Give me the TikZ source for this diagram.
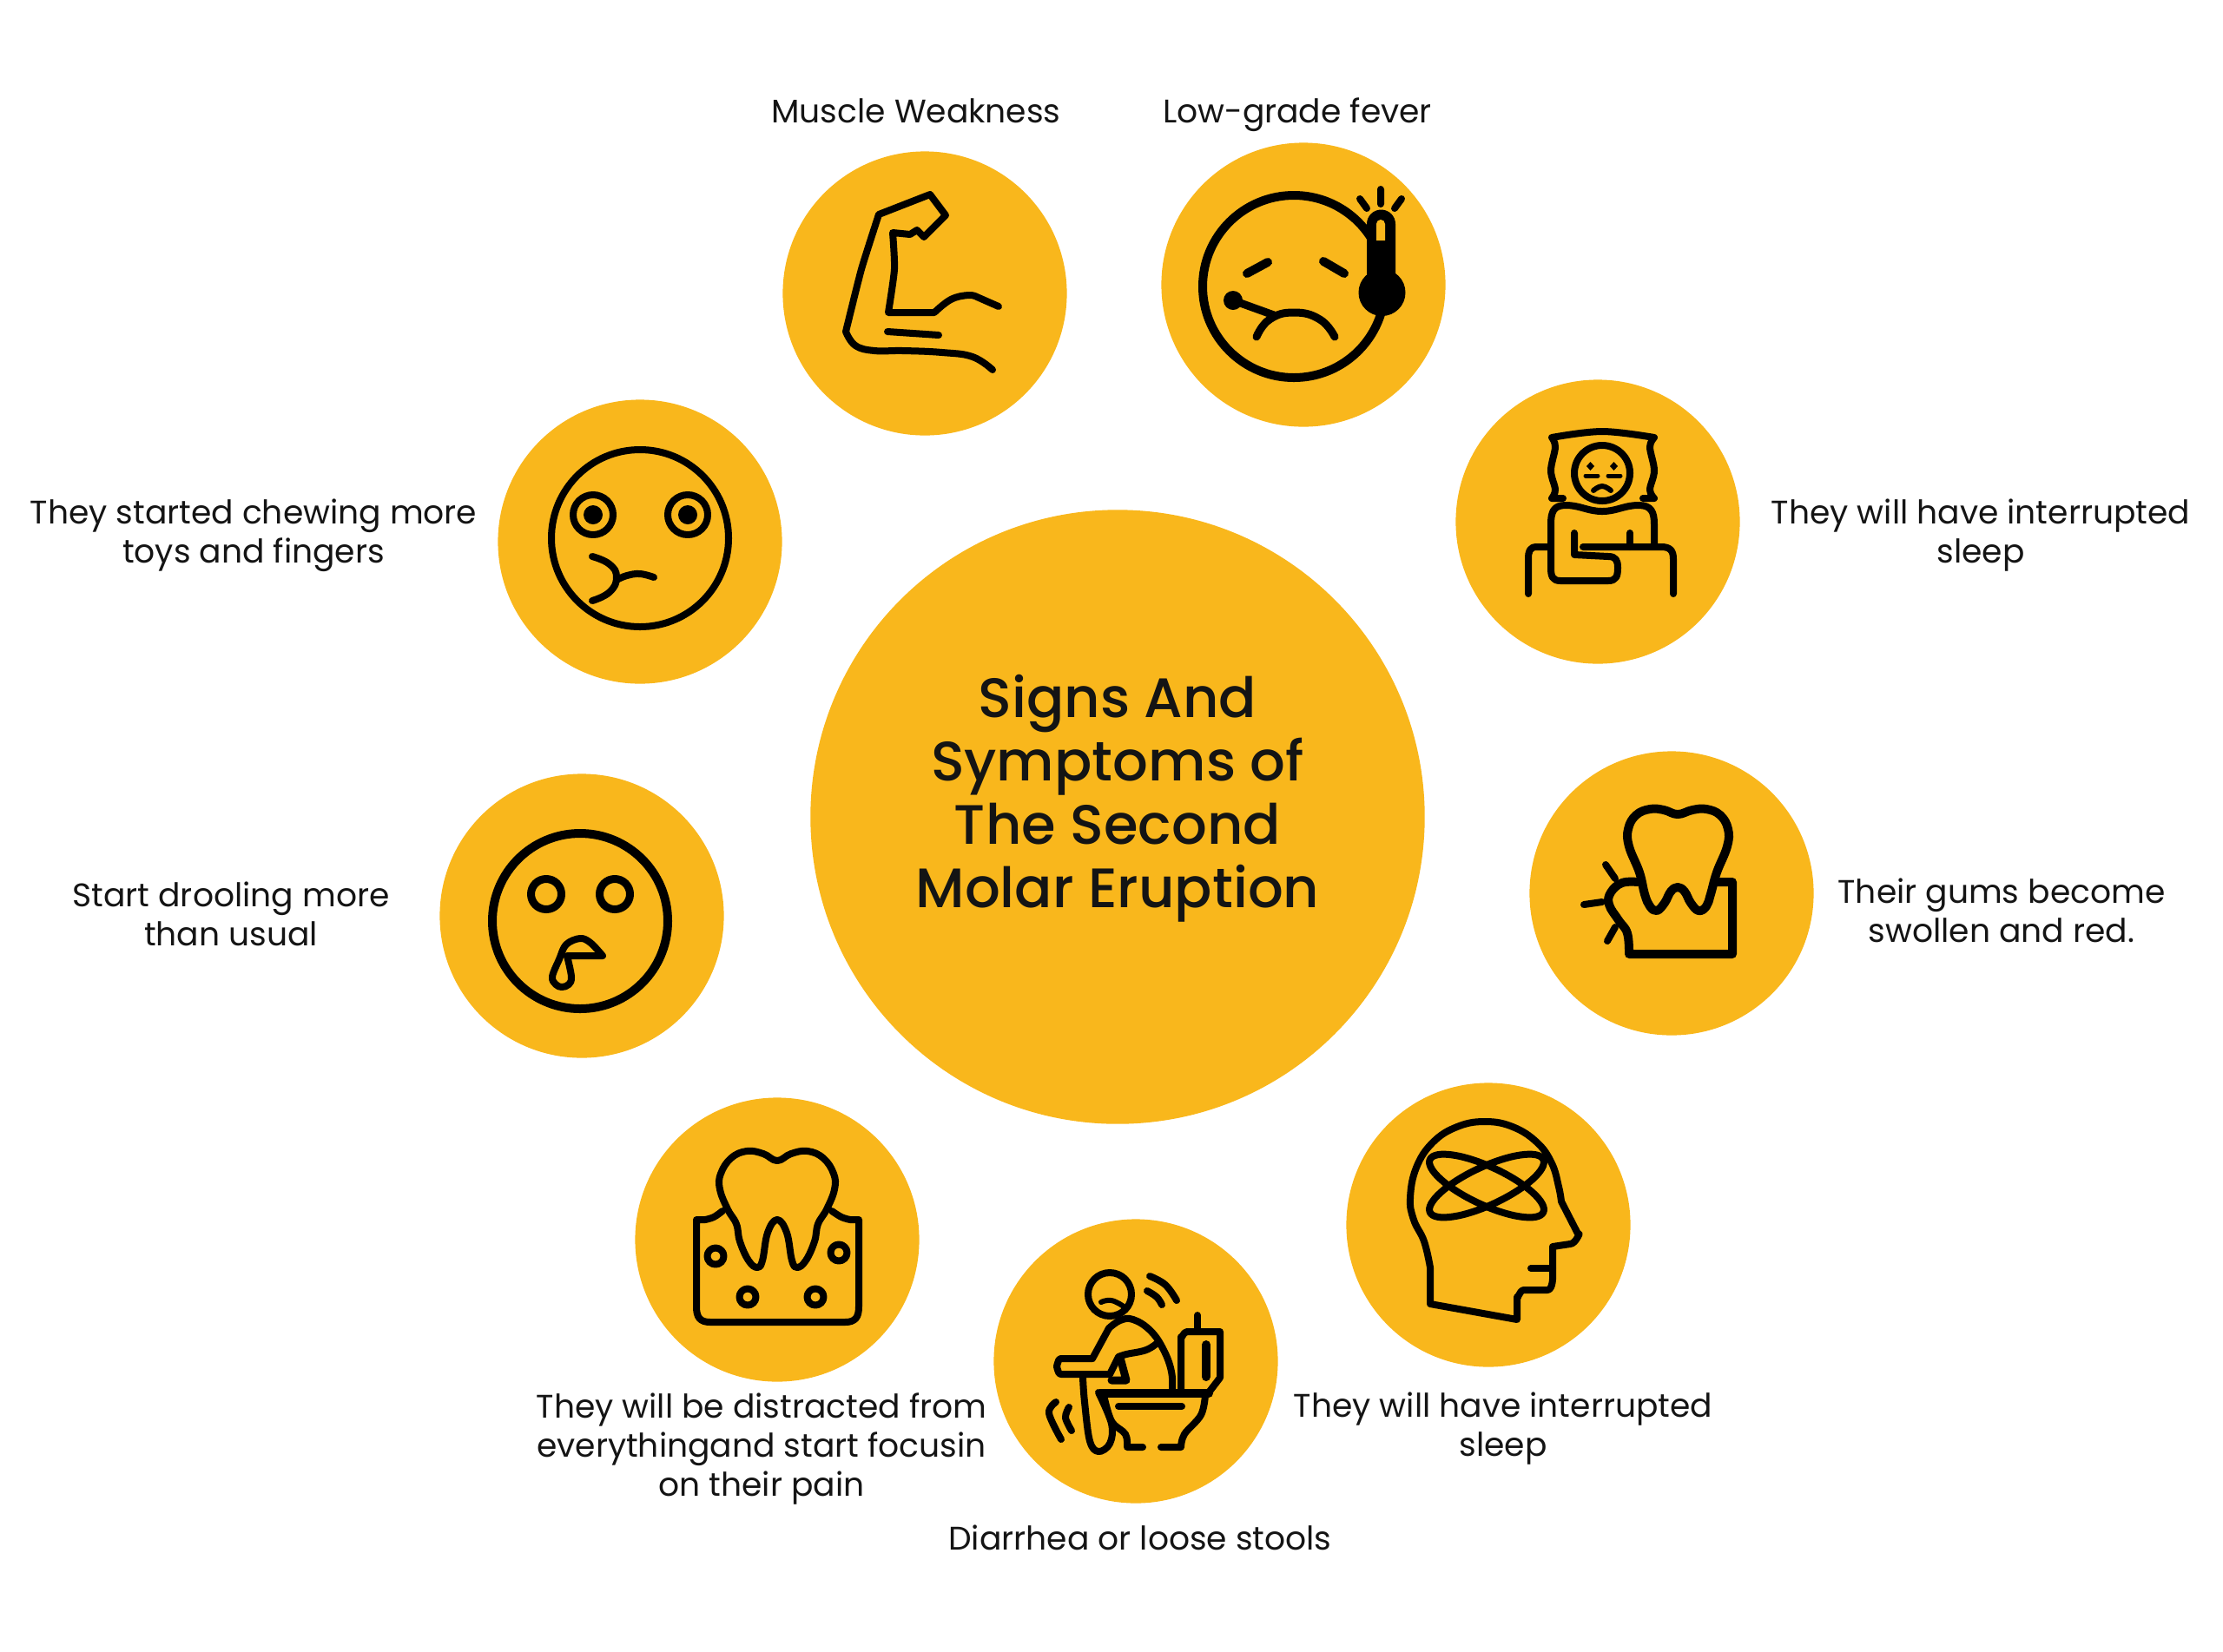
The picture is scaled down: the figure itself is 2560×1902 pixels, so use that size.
\documentclass[tikz,border=0pt]{standalone}
\usepackage{fontspec}
\setmainfont{Poppins}
\newfontfamily\titlefont{Poppins Medium}
\definecolor{amber}{HTML}{F9B71C}
\definecolor{ink}{HTML}{141414}
\tikzset{
  bubble/.style = {circle,fill=amber,inner sep=0pt,minimum size=3.27cm},
  hub/.style = {circle,fill=amber,inner sep=0pt,minimum size=7.07cm},
  caption/.style = {align=center,inner sep=0pt,text=ink,font=\fontsize{10.7}{12.8}\selectfont},
  headline/.style = {align=center,inner sep=0pt,text=ink,font=\titlefont\fontsize{18.2}{20.8}\selectfont},
  icon/.style = {draw=black,line width=0.08cm,line cap=round,line join=round},
  heavy/.style = {icon,line width=0.1cm}
}
\begin{document}
\begin{tikzpicture}[x=0.01cm,y=-0.01cm]
  \useasboundingbox (0,0) rectangle (2560,1902);
  % circles
  \node[hub] (centre) at (1287,941) {};
  \node[bubble] (muscle) at (1065,338) {};
  \node[bubble] (fever) at (1501,328) {};
  \node[bubble] (sleep) at (1840,601) {};
  \node[bubble] (gums) at (1925,1029) {};
  \node[bubble] (head) at (1714,1411) {};
  \node[bubble] (toilet) at (1308,1568) {};
  \node[bubble] (tooth) at (895,1428) {};
  \node[bubble] (drool) at (670,1055) {};
  \node[bubble] (chew) at (737,624) {};
  % texts
  \node[headline] (title) at (1287,920) {Signs And\\Symptoms of\\The Second\\Molar Eruption};
  \node[caption] (musclelabel) at (1055,128) {Muscle Weakness};
  \node[caption] (feverlabel) at (1494,132) {Low-grade fever};
  \node[caption] (sleeplabel) at (2281,617) {They will have interrupted\\sleep};
  \node[caption] (gumslabel) at (2305,1049) {Their gums become\\swollen and red.};
  \node[caption] (headlabel) at (1731,1646) {They will have interrupted\\sleep};
  \node[caption] (toiletlabel) at (1313,1771) {Diarrhea or loose stools};
  \node[caption] (toothlabel) at (877,1669) {They will be distracted from\\everythingand start focusin\\on their pain};
  \node[caption] (droollabel) at (266,1053) {Start drooling more\\than usual};
  \node[caption] (chewlabel) at (292,617) {They started chewing more\\toys and fingers};
  % muscle
  \draw[icon] plot[smooth,tension=0.7] coordinates {(1143,426) (1120,411) (1085,406) (1040,404) (1007,404) (985,398) (974,382)}
    -- plot[smooth,tension=0.3] coordinates {(974,382) (992,310) (1012,247)}
    -- (1071,224) -- (1089,248) -- (1064,273) -- (1056,265) -- (1048,270) -- (1028,268)
    -- plot[smooth,tension=0.4] coordinates {(1028,268) (1030,310) (1023,360)}
    -- (1076,360) -- plot[smooth,tension=0.7] coordinates {(1076,360) (1095,345) (1115,340) (1125,342)} -- (1150,353);
  \draw[icon] (1022,382) -- (1081,386);
  % fever
  \draw[heavy] (1490,330) circle (105);
  \fill (1574,336) -- (1574,258) arc (180:360:16.5) -- (1607,336) -- cycle;
  \fill (1591.5,337) circle (27);
  \fill[amber] (1585,277) -- (1585,258) arc (180:360:5) -- (1595,277) -- cycle;
  \draw[heavy,line width=0.08cm] (1590,218) -- (1590,235) (1566,229) -- (1574,240) (1614,229) -- (1606,240);
  \draw[heavy] (1436,315) -- (1460,302) (1524,301) -- (1548,315);
  \draw[heavy,line width=0.09cm] plot[smooth,tension=0.8] coordinates {(1447,388) (1462,368) (1490,360) (1520,368) (1537,388)};
  \draw[heavy,line width=0.09cm] (1420,346) -- (1467,363);
  \fill (1420,346) circle (11);
  % sleep
  \draw[icon] plot[smooth,tension=0.6] coordinates {(1787,504) (1845,497) (1905,504)}
    -- plot[smooth,tension=0.6] coordinates {(1905,504) (1900,515) (1905,542) (1900,564) (1905,574)} -- (1892,574)
    (1800,574) -- (1787,574) -- plot[smooth,tension=0.6] coordinates {(1787,574) (1791,564) (1786,542) (1791,515) (1787,504)};
  \draw[icon] (1845,545) circle (32);
  \fill (1831.5,532) -- (1836,537) -- (1831.5,542) -- (1827,537) -- cycle;
  \fill (1858.5,532) -- (1863,537) -- (1858.5,542) -- (1854,537) -- cycle;
  \draw[icon,line width=0.05cm] (1826,548) -- (1840,548) (1852,548) -- (1866,548);
  \draw[icon,line width=0.06cm] plot[smooth,tension=0.8] coordinates {(1835,565) (1845,560) (1855,565)};
  \draw[icon] (1813,614) -- (1813,639) -- (1852,641) to[out=0,in=90,looseness=1.3] (1863,654) to[out=-90,in=0,looseness=1.3] (1852,669)
    -- (1797,669) to[out=180,in=-90,looseness=1.3] (1786,654) -- (1786,604) to[out=90,in=180,looseness=1.3] (1803,582)
    to[out=0,in=180] (1845,589) to[out=0,in=180] (1887,582) to[out=0,in=90,looseness=1.3] (1905,604) -- (1905,626);
  \draw[icon] (1823,630) -- (1913,630) to[out=0,in=90,looseness=1.3] (1927,644) -- (1927,684);
  \draw[icon] (1760,684) -- (1760,644) to[out=90,in=180,looseness=1.3] (1770,630) -- (1785,630);
  \draw[icon] (1877,614) -- (1877,630);
  % gums
  \draw[heavy] plot[smooth cycle,tension=0.7] coordinates {(1932,938) (1916,933) (1900,932) (1884,939) (1875,955) (1876,975) (1888,1005)
    (1894,1030) (1900,1044) (1908,1049) (1917,1040) (1924,1027) (1932,1022) (1940,1027) (1947,1040) (1956,1049)
    (1965,1044) (1970,1030) (1977,1005) (1989,975) (1990,955) (1981,939) (1965,932) (1949,933)};
  \draw[heavy] plot[smooth,tension=0.7] coordinates {(1886,1016) (1868,1017) (1855,1028) (1853,1042) (1864,1060) (1874,1075) (1876,1099)}
    -- (1995,1099) -- (1995,1016) -- (1977,1016);
  \draw[heavy,line width=0.08cm] (1849,996) -- (1860,1012) (1824,1042) -- (1845,1039) (1851,1084) -- (1860,1068);
  % head
  \draw[icon] (1747,1520) -- (1647,1502) -- (1647,1460)
    -- plot[smooth,tension=0.7] coordinates {(1647,1460) (1640,1430) (1628,1405) (1624,1380) (1631,1345) (1650,1316) (1678,1298) (1710,1292) (1742,1298) (1770,1316) (1787,1340) (1795,1367) (1798,1384)}
    -- (1818,1423) to[out=70,in=0,looseness=1.3] (1808,1433) -- (1788,1436) -- (1788,1474) to[out=90,in=0,looseness=1.3] (1782,1486)
    -- (1755,1486) to[out=180,in=-90,looseness=1.3] (1747,1494) -- cycle;
  \draw[icon] (1763,1461) -- (1788,1461);
  \draw[icon] (1712,1366) ellipse[x radius=72,y radius=22,rotate=25];
  \draw[icon] (1712,1366) ellipse[x radius=72,y radius=22,rotate=-25];
  % toilet
  \draw[icon] (1278,1491) circle (25);
  \draw[icon,line width=0.06cm] plot[smooth,tension=0.8] coordinates {(1268,1500) (1280,1498) (1294,1505)};
  \draw[icon] plot[smooth,tension=0.7] coordinates {(1324,1470) (1342,1480) (1355,1498)};
  \draw[icon] plot[smooth,tension=0.7] coordinates {(1321,1487) (1332,1494) (1338,1503)};
  \draw[icon] (1360,1601) -- (1360,1540) to[out=-90,in=180,looseness=1.3] (1367,1534) -- (1405,1534) -- (1405,1587) -- (1392,1604);
  \draw[icon] (1379,1515) -- (1379,1533);
  \draw[heavy] (1389,1549) -- (1389,1586);
  \draw[heavy] (1267,1605) -- (1392,1605);
  \draw[icon] plot[smooth,tension=0.6] coordinates {(1271,1607) (1280,1637) (1296,1652) (1298,1667)} -- (1316,1667);
  \draw[icon] plot[smooth,tension=0.6] coordinates {(1388,1607) (1383,1630) (1364,1652) (1360,1667)} -- (1337,1667);
  \draw[icon] (1288,1620) -- (1361,1620);
  \draw[icon] plot[smooth,tension=0.7] coordinates {(1277,1530) (1290,1521) (1305,1520) (1325,1533) (1340,1555) (1349,1580) (1350,1602)};
  \draw[icon] (1277,1530) -- (1258,1565) -- (1222,1565) to[out=180,in=-90,looseness=1.3] (1217,1574) to[out=90,in=180,looseness=1.3] (1222,1583)
    -- (1278,1583) -- (1288,1563) -- plot[smooth,tension=0.7] coordinates {(1288,1563) (1297,1560) (1320,1555) (1334,1546)};
  \draw[heavy,line width=0.09cm] (1290,1564) -- (1297,1590) -- (1280,1590);
  \draw[icon] plot[smooth,tension=0.6] coordinates {(1247,1587) (1249,1615) (1255,1660) (1265,1672) (1278,1663) (1280,1640) (1265,1604)};
  \draw[icon] plot[smooth,tension=0.6] coordinates {(1216,1615) (1208,1628) (1222,1658)};
  \draw[icon] plot[smooth,tension=0.6] coordinates {(1231,1621) (1227,1633) (1234,1648)};
  % tooth
  \draw[icon] plot[smooth cycle,tension=0.7] coordinates {(895,1337) (879,1329) (860,1326) (842,1334) (830,1352) (829,1370) (838,1393)
    (848,1410) (852,1430) (862,1452) (872,1460) (878,1452) (884,1420) (895,1405) (906,1420) (912,1452) (918,1460)
    (928,1452) (938,1430) (942,1410) (952,1393) (961,1370) (960,1352) (948,1334) (930,1326) (911,1329)};
  \draw[icon] plot[smooth,tension=0.6] coordinates {(832,1395) (822,1402) (812,1405)} -- (802,1405) -- (802,1505)
    to[out=-90,in=180,looseness=1.3] (818,1523) -- (973,1523) to[out=0,in=-90,looseness=1.3] (989,1505) -- (989,1405) -- (979,1405)
    -- plot[smooth,tension=0.6] coordinates {(979,1405) (969,1402) (958,1395)};
  \foreach \px/\py in {824/1447, 966/1443, 861/1494, 939/1494}
    \draw[icon] (\px,\py) circle (9.5);
  % drool
  \draw[heavy] (668,1061) circle (101);
  \draw[heavy,line width=0.09cm] (629,1030) circle (17.5) (708,1030) circle (17.5);
  \draw[icon] plot[smooth,tension=0.6] coordinates {(694,1101) (680,1086) (668,1081) (652,1088) (644,1105) (636,1125) (640,1134) (647,1137) (655,1134) (658,1125) (653,1101)} -- cycle;
  % chew
  \draw[icon] (737,620) circle (102);
  \draw[icon] (683,593) circle (23) (792,593) circle (23);
  \fill (683,593) circle (11) (792,593) circle (11);
  \draw[icon] plot[smooth,tension=0.8] coordinates {(682,641) (702,650) (710,665) (702,682) (682,692)};
  \draw[icon] plot[smooth,tension=0.7] coordinates {(710,668) (722,663) (737,661) (753,665)};
\end{tikzpicture}
\end{document}
